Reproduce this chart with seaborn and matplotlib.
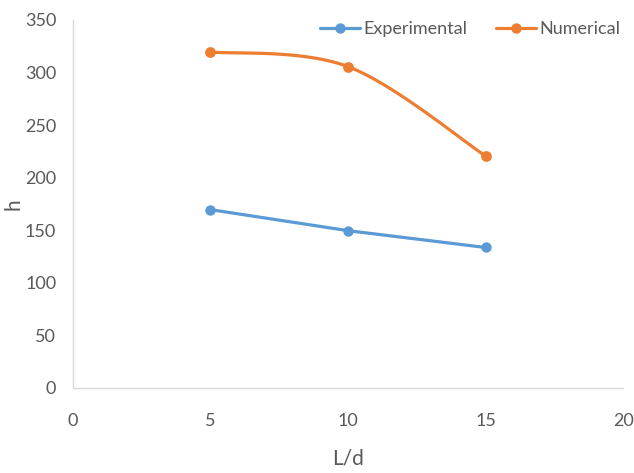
import numpy as np
import pandas as pd
import matplotlib
matplotlib.use("Agg")
import matplotlib.pyplot as plt
import seaborn as sns
from matplotlib.lines import Line2D

# Data
ld = [5, 10, 15]
experimental = [169.5, 149.5, 133.5]
numerical = [319.5, 305.5, 220.5]
x_ticks = [0, 5, 10, 15, 20]
y_ticks = [0, 50, 100, 150, 200, 250, 300, 350]

BLUE = "#5B9BD5"
ORANGE = "#ED7D31"
GREY = "#595959"

sns.set_theme(style="white")
plt.rcParams["font.family"] = ["Lato", "DejaVu Sans"]


def smooth_curve(xs, ys, n=60):
    """Bezier smoothing through the points (Catmull-Rom style control points)."""
    pts = np.column_stack([xs, ys]).astype(float)
    out = []
    m = len(pts)
    for i in range(m - 1):
        p0 = pts[i - 1] if i > 0 else pts[i]
        p1 = pts[i]
        p2 = pts[i + 1]
        p3 = pts[i + 2] if i + 2 < m else pts[i + 1]
        c1 = p1 + (p2 - p0) / 6.0
        c2 = p2 - (p3 - p1) / 6.0
        t = np.linspace(0, 1, n)[:, None]
        seg = ((1 - t) ** 3) * p1 + 3 * ((1 - t) ** 2) * t * c1 + 3 * (1 - t) * t ** 2 * c2 + t ** 3 * p2
        out.append(seg if i == 0 else seg[1:])
    arr = np.vstack(out)
    return arr[:, 0], arr[:, 1]


fig, ax = plt.subplots(figsize=(6.34, 4.73), dpi=100)
fig.subplots_adjust(left=0.115, right=0.983, top=0.958, bottom=0.18)

# Experimental: straight segments
df_exp = pd.DataFrame({"L/d": ld, "h": experimental})
sns.lineplot(data=df_exp, x="L/d", y="h", ax=ax, color=BLUE, linewidth=2.3,
             marker="o", markersize=7.5, markeredgewidth=0, sort=False)

# Numerical: smoothed curve plus markers at the data points
sx, sy = smooth_curve(ld, numerical)
df_num_s = pd.DataFrame({"L/d": sx, "h": sy})
sns.lineplot(data=df_num_s, x="L/d", y="h", ax=ax, color=ORANGE, linewidth=2.3, sort=False)
df_num = pd.DataFrame({"L/d": ld, "h": numerical})
sns.scatterplot(data=df_num, x="L/d", y="h", ax=ax, color=ORANGE, s=60, linewidth=0, zorder=3)

ax.set_xlim(0, 20)
ax.set_ylim(0, 350)
ax.set_xticks(x_ticks)
ax.set_yticks(y_ticks)
ax.tick_params(axis="both", length=0, labelsize=13, colors=GREY)
ax.tick_params(axis="y", pad=12)
ax.tick_params(axis="x", pad=18)

for side in ["top", "right"]:
    ax.spines[side].set_visible(False)
for side in ["left", "bottom"]:
    ax.spines[side].set_color("#D9D9D9")
    ax.spines[side].set_linewidth(1.0)

ax.set_xlabel("L/d", fontsize=15, color=GREY, labelpad=14)
ax.set_ylabel("h", fontsize=15, color=GREY)
ax.yaxis.set_label_coords(-0.09, 0.5)

handles = [
    Line2D([], [], color=BLUE, linewidth=2.3, marker="o", markersize=7.5, markeredgewidth=0),
    Line2D([], [], color=ORANGE, linewidth=2.3, marker="o", markersize=7.5, markeredgewidth=0),
]
ax.legend(handles, ["Experimental", "Numerical"], loc="upper right", ncol=2, frameon=False,
          fontsize=13, labelcolor=GREY, handlelength=2.2, handletextpad=0.2, columnspacing=1.6,
          bbox_to_anchor=(1.025, 1.04))

fig.savefig("out.png", dpi=100)
